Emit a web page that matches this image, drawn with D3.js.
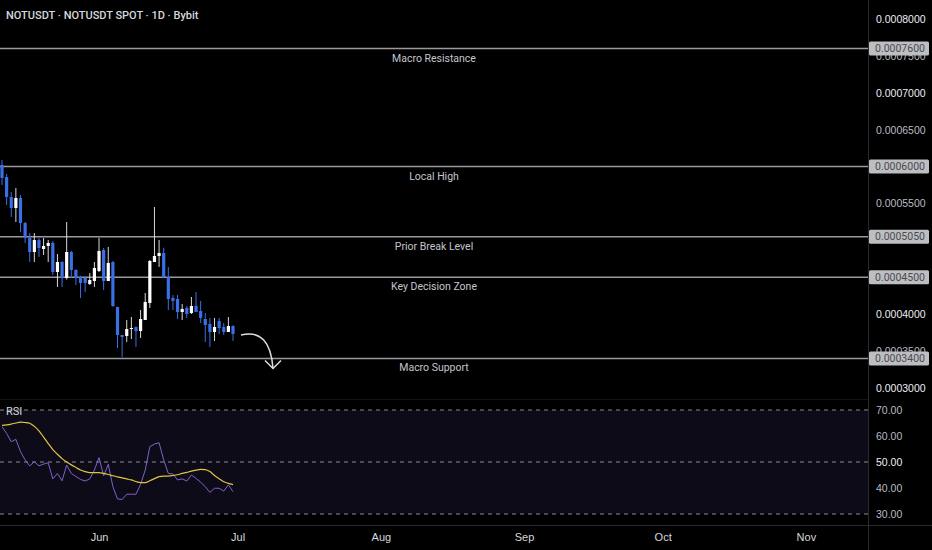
<!DOCTYPE html>
<html>
<head>
<meta charset="utf-8">
<script src="https://cdn.jsdelivr.net/npm/d3@7"></script>
<style>
  html, body { margin: 0; padding: 0; background: #000; }
  svg { display: block; font-family: Roboto, "Noto Sans", sans-serif; }
</style>
</head>
<body>
<script>
// daily candles, 11 May .. 30 Jun
var firstDay = new Date(Date.UTC(2024, 4, 11)),
    lastDay = new Date(Date.UTC(2024, 5, 30));

var open  = [0.0006022,0.0005859,0.0005588,0.0005439,0.0005575,0.0005236,0.0005033,0.0004843,0.0005005,0.0004884,0.0004924,0.0004965,0.0004572,0.0004707,0.0004490,0.0004843,0.0004599,0.0004504,0.0004490,0.0004409,0.0004450,0.0004585,0.0004870,0.0004450,0.0004707,0.0004098,0.0003718,0.0003705,0.0003805,0.0003827,0.0003772,0.0003922,0.0004152,0.0004707,0.0004789,0.0004829,0.0004504,0.0004220,0.0004206,0.0004030,0.0004084,0.0004016,0.0004111,0.0004043,0.0003935,0.0003867,0.0003759,0.0003908,0.0003827,0.0003759,0.0003840];
var high  = [0.0006089,0.0005900,0.0005656,0.0005710,0.0005615,0.0005250,0.0005100,0.0005100,0.0005033,0.0005033,0.0005005,0.0004990,0.0004816,0.0004720,0.0005249,0.0004860,0.0004610,0.0004520,0.0004500,0.0004558,0.0004707,0.0005033,0.0004897,0.0004910,0.0004720,0.0004100,0.0003720,0.0003922,0.0003962,0.0003830,0.0004057,0.0004287,0.0004734,0.0005453,0.0005005,0.0004900,0.0004640,0.0004260,0.0004260,0.0004138,0.0004111,0.0004233,0.0004301,0.0004179,0.0004016,0.0003949,0.0003949,0.0003949,0.0003881,0.0003962,0.0003850];
var low   = [0.0005751,0.0005480,0.0005317,0.0005249,0.0005114,0.0004965,0.0004707,0.0004707,0.0004775,0.0004802,0.0004707,0.0004531,0.0004369,0.0004369,0.0004470,0.0004490,0.0004396,0.0004220,0.0004301,0.0004396,0.0004369,0.0004572,0.0004328,0.0004450,0.0004100,0.0003542,0.0003420,0.0003623,0.0003664,0.0003556,0.0003678,0.0003922,0.0004084,0.0004707,0.0004640,0.0004490,0.0004057,0.0004057,0.0003935,0.0003922,0.0003949,0.0004003,0.0004030,0.0003881,0.0003623,0.0003556,0.0003637,0.0003732,0.0003718,0.0003759,0.0003637];
var close = [0.0005846,0.0005588,0.0005439,0.0005575,0.0005236,0.0005033,0.0004843,0.0005005,0.0004897,0.0004924,0.0004965,0.0004572,0.0004707,0.0004490,0.0004843,0.0004599,0.0004490,0.0004423,0.0004423,0.0004463,0.0004626,0.0004857,0.0004450,0.0004694,0.0004111,0.0003718,0.0003691,0.0003799,0.0003813,0.0003772,0.0003935,0.0004165,0.0004721,0.0004789,0.0004829,0.0004504,0.0004206,0.0004179,0.0004030,0.0004071,0.0004003,0.0004111,0.0004030,0.0003949,0.0003854,0.0003759,0.0003827,0.0003813,0.0003759,0.0003840,0.0003732];

var rsi   = [63.6,61.0,57.8,58.7,54.0,50.8,48.5,50.1,48.5,49.2,49.7,43.5,45.6,42.8,48.8,45.6,44.4,43.3,42.7,43.5,46.9,51.7,44.7,49.1,40.5,35.8,35.6,37.6,37.6,37.6,41.4,46.9,55.9,56.9,57.4,50.8,45.6,45.4,43.1,43.5,42.7,45.0,43.7,42.2,40.5,38.3,39.9,39.9,38.8,41.2,38.6];
var rsiMa = [64.1,64.3,64.6,65.0,65.3,65.2,64.9,63.7,62.0,59.6,57.1,54.8,53.0,51.3,50.0,48.9,47.9,46.9,46.3,45.9,45.9,45.9,45.6,45.2,44.7,44.3,43.9,43.5,43.1,42.5,42.1,42.1,42.8,43.6,44.4,44.6,44.6,44.8,45.1,45.6,46.0,46.5,46.9,47.2,47.1,46.3,44.8,43.6,42.4,41.8,41.3];

var levels     = [0.00076, 0.0006, 0.000505, 0.00045, 0.00034];
var levelNames = ["Macro Resistance", "Local High", "Prior Break Level", "Key Decision Zone", "Macro Support"];

// 0.0006, 0.0005 and 0.00045 sit under the level tags, so they are not listed
var priceTicks = [0.0003, 0.00035, 0.0004, 0.00055, 0.00065, 0.0007, 0.00075, 0.0008];
var rsiTicks   = [30, 40, 50, 60, 70];
var rsiBands   = [70, 50, 30];
var months     = ["2024-06-01", "2024-07-01", "2024-08-01", "2024-09-01", "2024-10-01", "2024-11-01"];

var width = 932, height = 550,
    plotRight = 868;

var days = d3.utcDay.range(firstDay, d3.utcDay.offset(lastDay, 1));
var candles = days.map(function(d, i) {
  return { date: d, o: open[i], h: high[i], l: low[i], c: close[i], rsi: rsi[i], ma: rsiMa[i] };
});

var x = d3.scaleUtc()
    .domain([firstDay, lastDay])
    .range([2, 233]);

var y = d3.scaleLinear()
    .domain([0.0003, 0.0008])
    .range([388, 19]);

var yr = d3.scaleLinear()
    .domain([30, 70])
    .range([514, 410]);

var svg = d3.select("body").append("svg")
    .attr("width", width)
    .attr("height", height);

svg.append("rect")
    .attr("width", width)
    .attr("height", height)
    .attr("fill", "#000");

// pane borders
svg.append("line")
    .attr("x1", plotRight + 0.5).attr("x2", plotRight + 0.5)
    .attr("y1", 0).attr("y2", height)
    .attr("stroke", "#2a2a2e");
svg.append("line")
    .attr("x1", 0).attr("x2", width)
    .attr("y1", 525.5).attr("y2", 525.5)
    .attr("stroke", "#2a2a2e");
svg.append("line")
    .attr("x1", 0).attr("x2", plotRight)
    .attr("y1", 399.5).attr("y2", 399.5)
    .attr("stroke", "#141418");

// title
svg.append("text")
    .attr("x", 6).attr("y", 19)
    .attr("fill", "#d6d8de")
    .attr("font-size", 11)
    .attr("font-weight", 500)
    .text("NOTUSDT · NOTUSDT SPOT · 1D · Bybit");

// price axis
var yAxis = svg.append("g")
    .attr("transform", "translate(" + (plotRight + 7) + ",0)")
    .call(d3.axisRight(y).tickValues(priceTicks).tickSize(0).tickFormat(d3.format(".7f")));
yAxis.select(".domain").remove();
yAxis.selectAll("text")
    .attr("x", 1)
    .attr("fill", function(d) { return Math.round(d * 1e5) % 10 === 0 ? "#eceef2" : "#b8bbc4"; })
    .attr("font-weight", function(d) { return Math.round(d * 1e5) % 10 === 0 ? 500 : 400; })
    .attr("font-size", 10.5);

// horizontal levels
var lev = svg.append("g");
lev.selectAll("line")
    .data(levels)
  .enter().append("line")
    .attr("x1", 0).attr("x2", plotRight)
    .attr("y1", function(d) { return y(d); })
    .attr("y2", function(d) { return y(d); })
    .attr("stroke", "#9a9a9e")
    .attr("stroke-width", 1.5);

lev.selectAll("text")
    .data(levels)
  .enter().append("text")
    .attr("x", 434)
    .attr("y", function(d) { return y(d) + 13; })
    .attr("text-anchor", "middle")
    .attr("fill", "#c4c6cc")
    .attr("font-size", 10.5)
    .text(function(d, i) { return levelNames[i]; });

var tags = svg.append("g").selectAll("g")
    .data(levels)
  .enter().append("g")
    .attr("transform", function(d) { return "translate(" + (plotRight + 1) + "," + y(d) + ")"; });
tags.append("rect")
    .attr("x", 0).attr("y", -7)
    .attr("width", 60).attr("height", 14)
    .attr("rx", 1.5)
    .attr("fill", "#bdbec2");
tags.append("text")
    .attr("x", 6).attr("dy", "0.35em")
    .attr("fill", "#4a4b50")
    .attr("font-size", 10.5)
    .text(function(d) { return d3.format(".7f")(d); });

// candles
var bw = 3.2;
var candle = svg.append("g").selectAll("g")
    .data(candles)
  .enter().append("g");

candle.append("line")
    .attr("x1", function(d) { return x(d.date); })
    .attr("x2", function(d) { return x(d.date); })
    .attr("y1", function(d) { return y(d.h); })
    .attr("y2", function(d) { return y(d.l); })
    .attr("stroke", function(d) { return d.c >= d.o ? "#d8d8d8" : "#3b6fe6"; })
    .attr("stroke-width", 1);

candle.append("rect")
    .attr("x", function(d) { return x(d.date) - bw / 2; })
    .attr("width", bw)
    .attr("y", function(d) { return y(Math.max(d.o, d.c)); })
    .attr("height", function(d) { return Math.max(1, Math.abs(y(d.o) - y(d.c))); })
    .attr("fill", function(d) { return d.c >= d.o ? "#ffffff" : "#3b6fe6"; });

// projection arrow
var last = candles[candles.length - 1];
var ax0 = x(last.date) + 8, ay0 = y(last.c) + 1,
    ax1 = ax0 + 32, ay1 = y(levels[4]) + 10;
svg.append("path")
    .attr("d", "M" + ax0 + "," + ay0 + " Q" + (ax1 - 3) + "," + (ay0 - 7) + " " + ax1 + "," + ay1)
    .attr("fill", "none")
    .attr("stroke", "#dcdcdc")
    .attr("stroke-width", 1.5);
svg.append("path")
    .attr("d", "M" + (ax1 - 8) + "," + (ay1 - 8) + " L" + ax1 + "," + ay1 + " L" + (ax1 + 8) + "," + (ay1 - 8))
    .attr("fill", "none")
    .attr("stroke", "#dcdcdc")
    .attr("stroke-width", 1.5);

// RSI pane
svg.append("rect")
    .attr("x", 0).attr("width", plotRight)
    .attr("y", yr(70)).attr("height", yr(30) - yr(70))
    .attr("fill", "#0e0b19");

svg.append("g").selectAll("line")
    .data(rsiBands)
  .enter().append("line")
    .attr("x1", 0).attr("x2", plotRight)
    .attr("y1", function(d) { return yr(d); })
    .attr("y2", function(d) { return yr(d); })
    .attr("stroke", "#8a8a90")
    .attr("stroke-dasharray", "4,4");

svg.append("text")
    .attr("x", 6).attr("y", 415)
    .attr("fill", "#d6d8de")
    .attr("font-size", 11)
    .text("RSI");

svg.append("path")
    .datum(candles)
    .attr("fill", "none")
    .attr("stroke", "#7e62c8")
    .attr("stroke-width", 1)
    .attr("d", d3.line().x(function(d) { return x(d.date); }).y(function(d) { return yr(d.rsi); }));

svg.append("path")
    .datum(candles)
    .attr("fill", "none")
    .attr("stroke", "#e0c53e")
    .attr("stroke-width", 1.2)
    .attr("d", d3.line().curve(d3.curveMonotoneX).x(function(d) { return x(d.date); }).y(function(d) { return yr(d.ma); }));

var rAxis = svg.append("g")
    .attr("transform", "translate(" + (plotRight + 7) + ",0)")
    .call(d3.axisRight(yr).tickValues(rsiTicks).tickSize(0).tickFormat(d3.format(".2f")));
rAxis.select(".domain").remove();
rAxis.selectAll("text")
    .attr("x", 1)
    .attr("fill", function(d) { return d === 50 ? "#eceef2" : "#b8bbc4"; })
    .attr("font-weight", function(d) { return d === 50 ? 500 : 400; })
    .attr("font-size", 10.5);

// time axis
var xAxis = svg.append("g")
    .attr("transform", "translate(0,530)")
    .call(d3.axisBottom(x)
      .tickValues(months.map(function(m) { return new Date(m + "T00:00:00Z"); }))
      .tickSize(0)
      .tickFormat(d3.utcFormat("%b")));
xAxis.select(".domain").remove();
xAxis.selectAll("text")
    .attr("fill", "#d6d8de")
    .attr("font-size", 11)
    .attr("font-weight", 500);
</script>
</body>
</html>
